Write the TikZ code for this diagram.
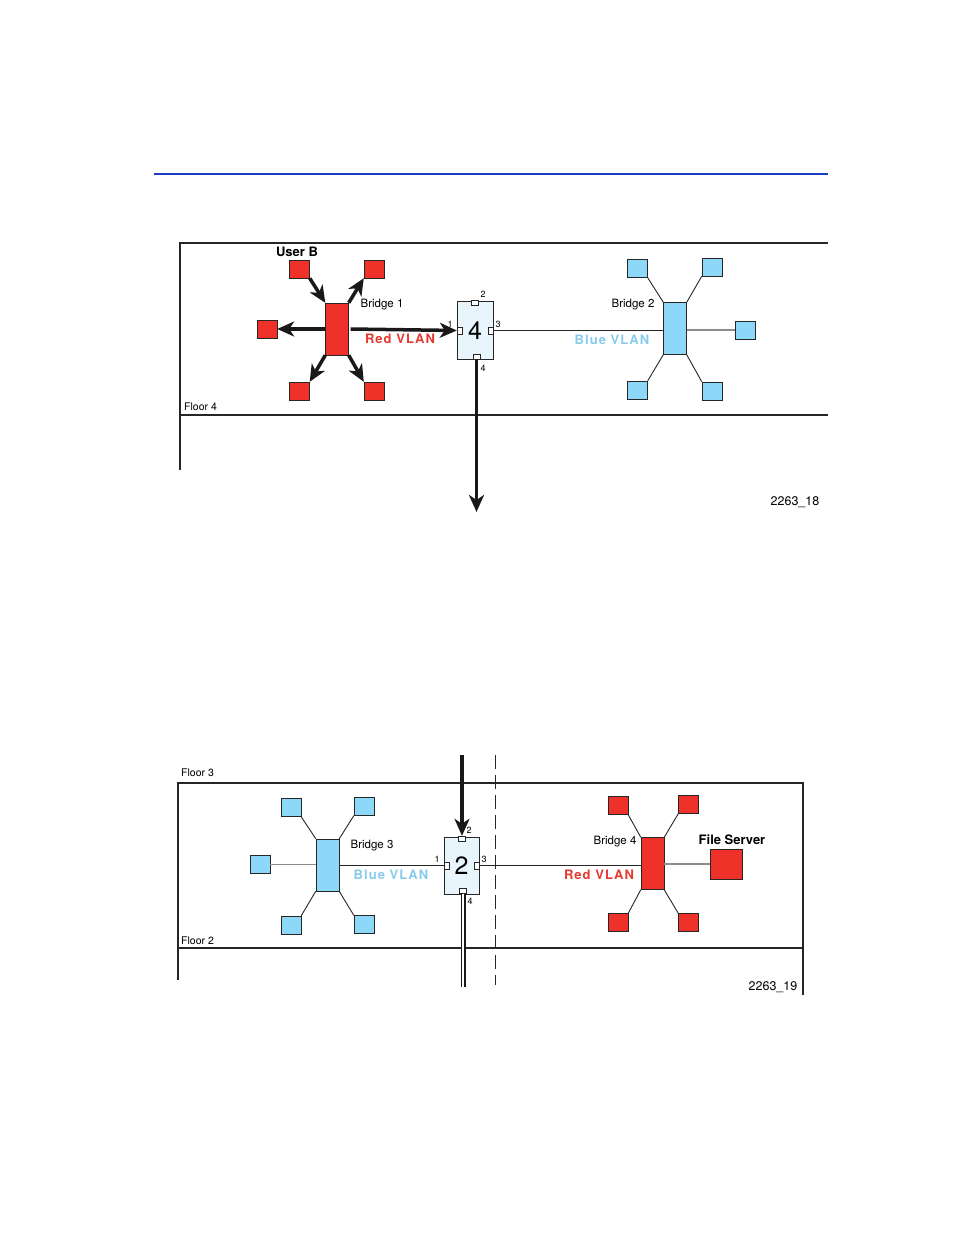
\documentclass[tikz,border=0pt]{standalone}
\usepackage{fontspec}
\setmainfont{TeX Gyre Heros}
\usepackage{xcolor}
\usetikzlibrary{arrows.meta,positioning}
\definecolor{vlanred}{HTML}{EE3129}
\definecolor{vlanblue}{HTML}{8DD8F8}
\definecolor{swfill}{HTML}{E9F5FD}
\definecolor{rulecol}{HTML}{1C3CC4}
\definecolor{redtxt}{HTML}{E5392F}
\definecolor{bluetxt}{HTML}{86CCEA}

\begin{document}
\begin{tikzpicture}[x=1pt,y=-1pt,
  redsq/.style={draw=black!85,fill=vlanred,minimum width=20pt,minimum height=18pt,inner sep=0pt},
  bluesq/.style={draw=black!85,fill=vlanblue,minimum width=20pt,minimum height=18pt,inner sep=0pt},
  redbr/.style={draw=black!85,fill=vlanred,minimum width=23pt,minimum height=52pt,inner sep=0pt},
  bluebr/.style={draw=black!85,fill=vlanblue,minimum width=23pt,minimum height=52pt,inner sep=0pt},
  switch/.style={draw=black!85,fill=swfill,minimum width=36pt,minimum height=58pt,inner sep=0pt,font=\fontsize{25}{25}\selectfont},
  hport/.style={draw=black!85,fill=white,inner sep=0pt,minimum width=7pt,minimum height=5pt},
  vport/.style={draw=black!85,fill=white,inner sep=0pt,minimum width=5pt,minimum height=7pt},
  plab/.style={font=\fontsize{9}{10}\selectfont,inner sep=0pt},
  lab/.style={font=\fontsize{11.5}{13}\selectfont,inner sep=0pt},
  floorlab/.style={font=\fontsize{10.5}{12}\selectfont,inner sep=0pt,anchor=west},
  boldlab/.style={font=\bfseries\fontsize{13}{15}\selectfont,inner sep=0pt},
  redvlan/.style={font=\bfseries\fontsize{13}{15}\selectfont\addfontfeature{LetterSpace=8},text=redtxt,inner sep=0pt},
  bluevlan/.style={font=\bfseries\fontsize{13}{15}\selectfont\addfontfeature{LetterSpace=8},text=bluetxt,inner sep=0pt},
  fat/.style={line width=3.5pt,black!90,-{Stealth[length=17pt,width=15pt,inset=5pt]}},
  wire/.style={line width=0.9pt,black!85},
  greywire/.style={line width=1.3pt,black!45},
  frame/.style={line width=1.1pt,black!85},
  floor/.style={line width=1.8pt,black!85}
]
\useasboundingbox (0,0) rectangle (954,1235);

% page rule
\draw[rulecol, line width=1.2pt] (154,174) -- (828,174);

% ---- Floor 4 ----
\draw[frame] (828,243) -- (180,243) -- (180,470);
\draw[floor] (180,415) -- (828,415);
\node[floorlab] (F4) at (184,407) {Floor 4};

\node[redbr] (BR1) at (337,329) {};
\node[redsq] (UB) at (299.5,269) {};
\node[redsq] (R2) at (374,269) {};
\node[redsq] (R3) at (267,329) {};
\node[redsq] (R4) at (299.5,391) {};
\node[redsq] (R5) at (374,391) {};
\node[boldlab] (UBL) at (297,252) {User B};
\node[lab] (BR1L) at (382,305) {Bridge 1};
\node[redvlan] (RV1) at (400,339) {Red VLAN};

\node[switch] (SW4) at (475,330.5) {4};
\node[hport, below=-1pt of SW4.north] (P42) {};
\node[vport, right=0pt of SW4.west] (P41) {};
\node[vport, left=0pt of SW4.east] (P43) {};
\node[hport, above=0.5pt of SW4.south, xshift=1.5pt] (P44) {};
\node[plab] (L42) at (483,294) {2};
\node[plab] (L41) at (450,324) {1};
\node[plab] (L43) at (498,324) {3};
\node[plab] (L44) at (483,368) {4};

\node[bluebr] (BR2) at (675,328.5) {};
\node[bluesq] (B21) at (637.5,268.5) {};
\node[bluesq] (B22) at (712,267) {};
\node[bluesq] (B23) at (745,330) {};
\node[bluesq] (B24) at (637.5,390) {};
\node[bluesq] (B25) at (712,391) {};
\node[lab] (BR2L) at (633,305) {Bridge 2};
\node[bluevlan] (BV1) at (612,340) {Blue VLAN};
\node[font=\fontsize{12.5}{14}\selectfont] (ID18) at (795,502) {2263\_18};

\draw[fat] (UB.south east) -- (BR1.north west);
\draw[fat] (BR1.north east) -- (R2.south west);
\draw[fat] (BR1.west) -- (R3.east);
\draw[fat] (BR1.south west) -- (R4.north east);
\draw[fat] (BR1.south east) -- (R5.north west);
\draw[fat] ([xshift=2pt]BR1.east) -- (P41.west);

\draw[wire] (P43.east) -- (BR2.west |- P43.east);
\draw[wire] (BR2.north west) -- (B21.south east);
\draw[wire] (BR2.north east) -- (B22.south west);
\draw[wire] (BR2.south west) -- (B24.north east);
\draw[wire] (BR2.south east) -- (B25.north west);
\draw[greywire] (BR2.east |- B23.west) -- (B23.west);

\coordinate (DOWN) at (477,512);
\draw[fat, line width=3pt] (P44.south) -- (P44.south |- DOWN);

% ---- Floors 3 and 2 ----
\node[floorlab] (F3) at (181,773) {Floor 3};
\node[floorlab] (F2) at (181,941) {Floor 2};
\draw[frame] (178,980) -- (178,783) -- (803,783) -- (803,995);
\draw[floor] (178,948) -- (803,948);
\draw[line width=1pt, black!85, dash pattern=on 14pt off 6pt] (495,755) -- (495,985);

\node[bluebr] (BR3) at (327.5,865) {};
\node[bluesq] (B31) at (291,807.5) {};
\node[bluesq] (B32) at (364,806.5) {};
\node[bluesq] (B33) at (260,864.5) {};
\node[bluesq] (B34) at (291,925) {};
\node[bluesq] (B35) at (364,924.5) {};
\node[lab] (BR3L) at (372,846) {Bridge 3};
\node[bluevlan] (BV2) at (391,875) {Blue VLAN};

\node[switch, minimum width=35pt, minimum height=57pt] (SW2) at (461.5,865.5) {2};
\node[hport, below=-1pt of SW2.north] (P22) {};
\node[vport, right=0pt of SW2.west] (P21) {};
\node[vport, left=0pt of SW2.east] (P23) {};
\node[hport, above=0.5pt of SW2.south, xshift=1.5pt] (P24) {};
\node[plab] (L22) at (469,830) {2};
\node[plab] (L21) at (437,859) {1};
\node[plab] (L23) at (484,859) {3};
\node[plab] (L24) at (470,901) {4};

\node[redbr] (BR4) at (652.5,863.5) {};
\node[redsq] (R41) at (618,805.5) {};
\node[redsq] (R42) at (688.5,804.5) {};
\node[redsq] (R44) at (618,922.5) {};
\node[redsq] (R45) at (688.5,922.5) {};
\node[redsq, minimum width=32pt, minimum height=30pt] (FS) at (726,864) {};
\node[boldlab] (FSL) at (732,840) {File Server};
\node[lab] (BR4L) at (615,842) {Bridge 4};
\node[redvlan] (RV2) at (599,875) {Red VLAN};
\node[font=\fontsize{12.5}{14}\selectfont] (ID19) at (773,987) {2263\_19};

\draw[wire] (BR3.east |- P21.west) -- (P21.west);
\draw[wire] (P23.east) -- (BR4.west |- P23.east);
\draw[greywire] (B33.east) -- (BR3.west |- B33.east);
\draw[greywire] (BR4.east |- FS.west) -- (FS.west);
\draw[wire] (BR3.north west) -- (B31.south east);
\draw[wire] (BR3.north east) -- (B32.south west);
\draw[wire] (BR3.south west) -- (B34.north east);
\draw[wire] (BR3.south east) -- (B35.north west);
\draw[wire] (BR4.north west) -- (R41.south east);
\draw[wire] (BR4.north east) -- (R42.south west);
\draw[wire] (BR4.south west) -- (R44.north east);
\draw[wire] (BR4.south east) -- (R45.north west);

\coordinate (UP) at (462,755);
\coordinate (BOT) at (463,987);
\draw[fat, line width=4pt] (UP) -- (UP |- P22.north);
\draw[black!90, line width=1.4pt, double=white, double distance=2.2pt] (P24.south) -- (P24.south |- BOT);
\end{tikzpicture}
\end{document}
